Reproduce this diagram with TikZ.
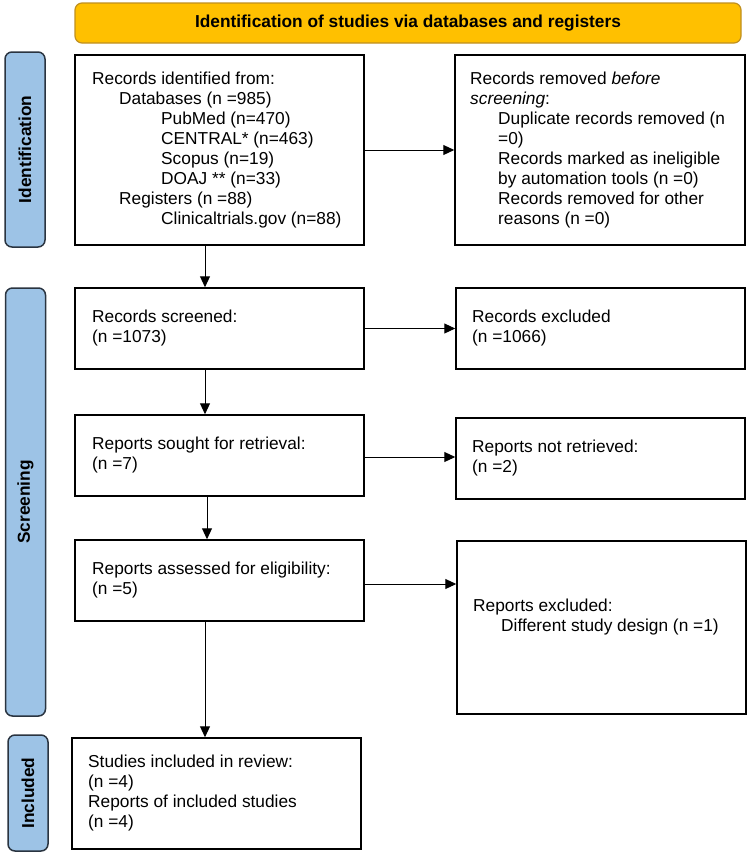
\documentclass[tikz,border=0pt]{standalone}
\usepackage{fontspec}
\setmainfont{Liberation Sans}
\usetikzlibrary{arrows.meta}
\definecolor{bannerfill}{HTML}{FFC000}
\definecolor{bannerdraw}{HTML}{C09020}
\definecolor{sidefill}{HTML}{9DC3E6}
\definecolor{sidedraw}{HTML}{2A3440}
\newcommand{\fsz}{\fontsize{17.3}{20}\selectfont}
\tikzset{
  box/.style={draw=black, line width=1.5pt, inner sep=0pt, minimum width=290pt},
  txt/.style={anchor=west, align=left, inner sep=0pt, font=\fsz},
  arr/.style={-{Triangle[length=11pt,width=10pt]}, line width=1pt},
  side/.style={draw=sidedraw, fill=sidefill, rounded corners=7pt, line width=1.5pt,
    minimum width=40pt, inner sep=0pt},
  sidetxt/.style={rotate=90, font=\fsz\bfseries, inner sep=0pt},
  banner/.style={draw=bannerdraw, fill=bannerfill, rounded corners=7pt, line width=1.2pt,
    minimum width=666pt, minimum height=40pt, inner sep=0pt, font=\fontsize{17.3}{20}\selectfont\bfseries}
}
\begin{document}
\begin{tikzpicture}[x=1pt,y=-1pt]
\useasboundingbox[fill=white] (0,0) rectangle (749,854);

% banner
\node[banner] (ban) at (408,23) {Identification of studies via databases and registers};

% side bars
\node[side, minimum height=195pt] (sid) at (25,149.5) {};
\node[sidetxt] (sidt) at (sid.center) {Identification};
\node[side, minimum height=428pt] (sscr) at (25.5,502) {};
\node[sidetxt] (sscrt) at (sscr.center) {Screening};
\node[side, minimum height=116pt] (sinc) at (28,793) {};
\node[sidetxt] (sinct) at (sinc.center) {Included};

% boxes
\node[box, minimum width=289pt, minimum height=190pt] (b1) at (219.5,150) {};
\node[box, minimum height=190pt] (b2) at (600,150) {};
\node[box, minimum width=289pt, minimum height=81pt] (scr) at (219.5,328.5) {};
\node[box, minimum width=289pt, minimum height=81pt] (exc) at (600.5,328.5) {};
\node[box, minimum width=289pt, minimum height=81pt] (sou) at (219.5,455.5) {};
\node[box, minimum width=289pt, minimum height=81pt] (nr) at (600.5,458.5) {};
\node[box, minimum width=289pt, minimum height=81pt] (ass) at (219.5,580.5) {};
\node[box, minimum width=289pt, minimum height=173pt] (rex) at (601.5,627.5) {};
\node[box, minimum width=289pt, minimum height=111pt] (inc) at (216.5,793.5) {};

% texts
\node[txt] (b1t) at (92,150) {Records identified from:\\
\hspace*{27pt}Databases (n =985)\\
\hspace*{69pt}PubMed (n=470)\\
\hspace*{69pt}CENTRAL* (n=463)\\
\hspace*{69pt}Scopus (n=19)\\
\hspace*{69pt}DOAJ ** (n=33)\\
\hspace*{27pt}Registers (n =88)\\
\hspace*{69pt}Clinicaltrials.gov (n=88)};
\node[txt] (b2t) at (470,150) {Records removed \textit{before}\\
\textit{screening}:\\
\hspace*{28pt}Duplicate records removed (n\\
\hspace*{28pt}=0)\\
\hspace*{28pt}Records marked as ineligible\\
\hspace*{28pt}by automation tools (n =0)\\
\hspace*{28pt}Records removed for other\\
\hspace*{28pt}reasons (n =0)};
\node[txt] (scrt) at (92,328.5) {Records screened:\\(n =1073)};
\node[txt] (exct) at (472,328.5) {Records excluded\\(n =1066)};
\node[txt] (sout) at (92,455.5) {Reports sought for retrieval:\\(n =7)};
\node[txt] (nrt) at (472,458.5) {Reports not retrieved:\\(n =2)};
\node[txt] (asst) at (92,580.5) {Reports assessed for eligibility:\\(n =5)};
\node[txt] (rext) at (473,617.5) {Reports excluded:\\
\hspace*{28pt}Different study design (n =1)};
\node[txt] (inct) at (88,793.5) {Studies included in review:\\
(n =4)\\
Reports of included studies\\
(n =4)};

% connectors
\draw[arr] (b1.east) -- (b1.east -| b2.west);
\draw[arr] ([xshift=-14.5pt]b1.south) -- ([xshift=-14.5pt]scr.north);
\draw[arr] (scr.east) -- (scr.east -| exc.west);
\draw[arr] ([xshift=-14.5pt]scr.south) -- ([xshift=-14.5pt]sou.north);
\draw[arr] ([yshift=-1.5pt]sou.east) -- ([yshift=-1.5pt]sou.east -| nr.west);
\draw[arr] ([xshift=-12.5pt]sou.south) -- ([xshift=-12.5pt]ass.north);
\draw[arr] ([yshift=-3.5pt]ass.east) -- ([yshift=-3.5pt]ass.east -| rex.west);
\draw[arr] ([xshift=-14.5pt]ass.south) -- ([xshift=-11.5pt]inc.north);
\end{tikzpicture}
\end{document}
